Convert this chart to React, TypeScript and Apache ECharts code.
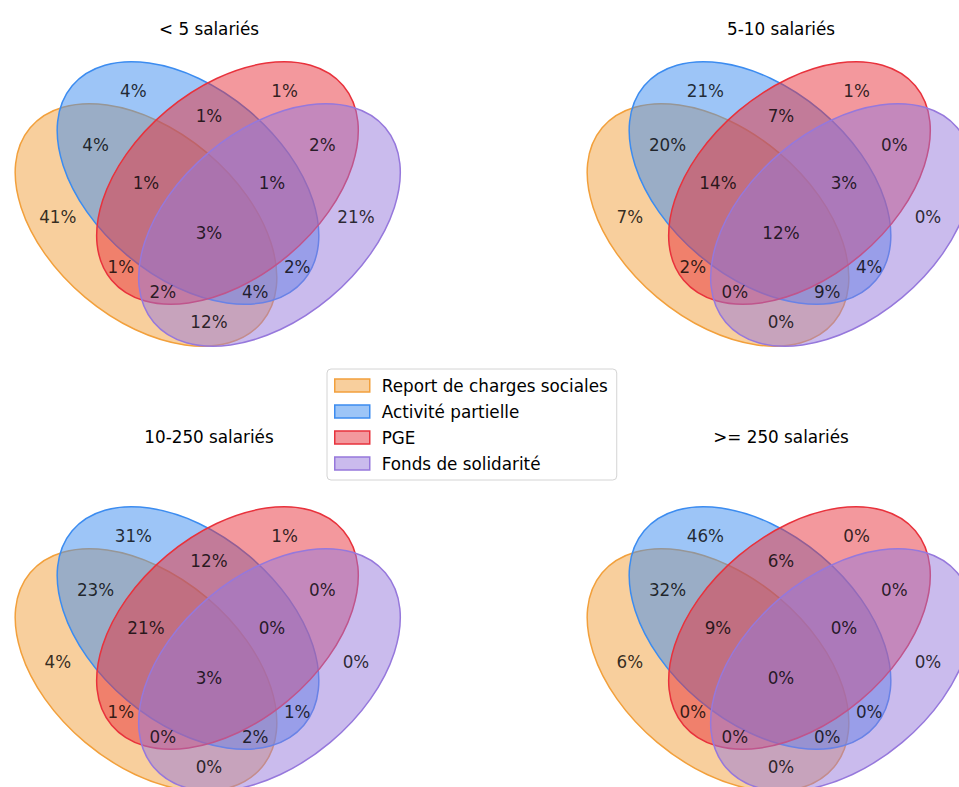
import { useEffect, useRef } from 'react';
import * as echarts from 'echarts';

// ---- data ----
const SET_NAMES = ['Report de charges sociales', 'Activité partielle', 'PGE', 'Fonds de solidarité'];
const PANEL_TITLES = ['< 5 salariés', '5-10 salariés', '10-250 salariés', '>= 250 salariés'];
// region keys: membership in (Report, Activité, PGE, Fonds)
const REGION_KEYS = ['0001', '0010', '0011', '0100', '0101', '0110', '0111', '1000', '1001', '1010', '1011', '1100', '1101', '1110', '1111'];
const LT5 = [21, 1, 2, 4, 2, 1, 1, 41, 12, 1, 2, 4, 4, 1, 3];
const S5_10 = [0, 1, 0, 21, 4, 7, 3, 7, 0, 2, 0, 20, 9, 14, 12];
const S10_250 = [0, 1, 0, 31, 1, 12, 0, 4, 0, 1, 0, 23, 2, 21, 3];
const GE250 = [0, 0, 0, 46, 0, 6, 0, 6, 0, 0, 0, 32, 0, 9, 0];
const PANEL_VALUES = [LT5, S5_10, S10_250, GE250];

// ---- layout (4-set venn geometry, unit square) ----
const REGION_POS: Record<string, [number, number]> = {
  '0001': [0.85, 0.42], '0010': [0.68, 0.72], '0011': [0.77, 0.59], '0100': [0.32, 0.72],
  '0101': [0.71, 0.30], '0110': [0.50, 0.66], '0111': [0.65, 0.50], '1000': [0.14, 0.42],
  '1001': [0.50, 0.17], '1010': [0.29, 0.30], '1011': [0.39, 0.24], '1100': [0.23, 0.59],
  '1101': [0.61, 0.24], '1110': [0.35, 0.50], '1111': [0.50, 0.38],
};
const ELLIPSES = [
  { cx: 0.350, cy: 0.400, w: 0.72, h: 0.45, angle: 140 },
  { cx: 0.450, cy: 0.500, w: 0.72, h: 0.45, angle: 140 },
  { cx: 0.544, cy: 0.500, w: 0.72, h: 0.45, angle: 40 },
  { cx: 0.644, cy: 0.400, w: 0.72, h: 0.45, angle: 40 },
];
const COLORS = [[242, 160, 60], [60, 140, 240], [232, 50, 60], [150, 120, 220]];
const UNIT = 420; // px per unit
const X_MIN = 0.01, X_MAX = 0.9, Y_MIN = 0.13, Y_MAX = 0.85;
// pixel position of the unit square's origin (0,0) for each panel
const PANELS = [
  { ox: -1, oy: 393, tx: 209, ty: 20 },
  { ox: 571, oy: 393, tx: 781, ty: 20 },
  { ox: -1, oy: 838, tx: 209, ty: 428 },
  { ox: 571, oy: 838, tx: 781, ty: 428 },
];
const FONT = 'DejaVu Sans';
const FS = 16.8;

const rgba = (c: number[], a: number) => `rgba(${c[0]},${c[1]},${c[2]},${a})`;

export default function App() {
  const ref = useRef<HTMLDivElement>(null);
  useEffect(() => {
    if (!ref.current) return;
    const chart = echarts.init(ref.current, null, { renderer: 'svg' });
    const grid: any[] = [];
    const xAxis: any[] = [];
    const yAxis: any[] = [];
    const series: any[] = [];
    const title: any[] = [];
    PANELS.forEach((p, pi) => {
      grid.push({
        left: p.ox + X_MIN * UNIT, top: p.oy - Y_MAX * UNIT,
        width: (X_MAX - X_MIN) * UNIT, height: (Y_MAX - Y_MIN) * UNIT, show: false,
      });
      xAxis.push({ type: 'value', gridIndex: pi, min: X_MIN, max: X_MAX, show: false });
      yAxis.push({ type: 'value', gridIndex: pi, min: Y_MIN, max: Y_MAX, show: false });
      title.push({
        text: PANEL_TITLES[pi], left: p.tx, top: p.ty, textAlign: 'center', padding: 0,
        textStyle: { fontFamily: FONT, fontSize: FS, fontWeight: 'normal', color: '#000' },
      });
      ELLIPSES.forEach((e, si) => {
        series.push({
          type: 'custom', name: SET_NAMES[si], xAxisIndex: pi, yAxisIndex: pi, z: 2 + si * 0.01,
          silent: true, clip: false,
          itemStyle: { color: rgba(COLORS[si], 0.5), borderColor: rgba(COLORS[si], 1), borderWidth: 1.5 },
          data: [[e.cx, e.cy, e.w, e.h, e.angle]],
          renderItem: (params: any, api: any) => {
            const c = api.coord([api.value(0), api.value(1)]);
            const s = api.size([api.value(2), api.value(3)]);
            return {
              type: 'ellipse', x: c[0], y: c[1], rotation: (api.value(4) * Math.PI) / 180,
              shape: { cx: 0, cy: 0, rx: s[0] / 2, ry: s[1] / 2 },
              style: { fill: rgba(COLORS[si], 0.5), stroke: rgba(COLORS[si], 1), lineWidth: 1.5 },
            };
          },
        });
      });
      series.push({
        type: 'scatter', xAxisIndex: pi, yAxisIndex: pi, z: 5, silent: true, clip: false,
        symbolSize: 1, itemStyle: { color: 'rgba(0,0,0,0)' },
        data: REGION_KEYS.map((k, i) => [REGION_POS[k][0], REGION_POS[k][1], PANEL_VALUES[pi][i]]),
        label: {
          show: true, position: 'inside', formatter: (d: any) => `${d.value[2]}%`,
          fontFamily: FONT, fontSize: FS, color: '#000',
        },
        emphasis: { disabled: true },
      });
    });
    chart.setOption({
      animation: false,
      backgroundColor: '#fff',
      title,
      grid, xAxis, yAxis, series,
      legend: {
        orient: 'vertical', left: 327, top: 369, selectedMode: false,
        backgroundColor: 'rgba(255,255,255,0.8)', borderColor: '#d4d4d4', borderWidth: 1, borderRadius: 4,
        padding: [8, 9, 8, 7], itemWidth: 35, itemHeight: 13, itemGap: 9,
        textStyle: { fontFamily: FONT, fontSize: FS, color: '#000', padding: [0, 0, 0, 7] },
        data: SET_NAMES.map((n, si) => ({
          name: n, icon: 'rect',
          itemStyle: { color: rgba(COLORS[si], 0.5), borderColor: rgba(COLORS[si], 1), borderWidth: 1.5 },
        })),
      },
    });
    return () => chart.dispose();
  }, []);
  return <div ref={ref} style={{ position: 'absolute', left: 0, top: 0, width: 959, height: 787 }} />;
}
